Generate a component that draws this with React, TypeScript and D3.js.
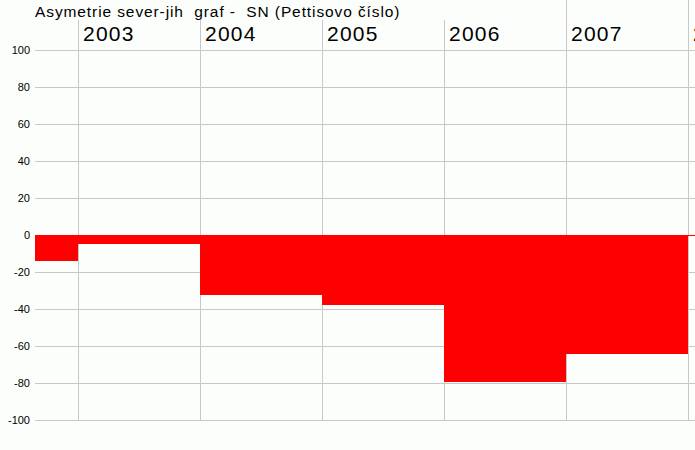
import React from "react";
import * as d3 from "d3";

const title = "Asymetrie sever-jih  graf -  SN (Pettisovo číslo)";
const stepStarts = [2002.6475, 2003, 2004, 2005, 2006, 2007];
const stepEnd = 2008;
const stepValues = [-14, -4.9, -32.4, -37.7, -79.3, -64.3];
const yearLabels = [2003, 2004, 2005, 2006, 2007, 2008];
const yTicks = [100, 80, 60, 40, 20, 0, -20, -40, -60, -80, -100];

const W = 695;
const H = 450;

export default function App() {
  const x = d3.scaleLinear().domain([2002.6475, 2008.057]).range([35, 695]);
  const y = d3.scaleLinear().domain([-100, 100]).range([420, 50]);

  const pts: [number, number][] = stepStarts.map((s, i) => [s, stepValues[i]]);
  pts.push([stepEnd, stepValues[stepValues.length - 1]]);

  const area = d3
    .area<[number, number]>()
    .x((d) => Math.round(x(d[0])))
    .y0(y(0))
    .y1((d) => Math.round(y(d[1])))
    .curve(d3.curveStepAfter);

  const grid = "#c8c8c8";
  return (
    <svg
      width={W}
      height={H}
      style={{ position: "absolute", left: 0, top: 0, background: "#fcfefc" }}
      fontFamily="'Liberation Sans', Arial, sans-serif"
    >
      <rect x={0} y={0} width={W} height={H} fill="#fcfefc" />
      {yearLabels.map((yr) => (
        <line
          key={"v" + yr}
          x1={Math.round(x(yr)) + 0.5}
          x2={Math.round(x(yr)) + 0.5}
          y1={0}
          y2={420}
          stroke={grid}
          strokeWidth={1}
        />
      ))}
      {yTicks.map((t) => (
        <line
          key={"h" + t}
          x1={35}
          x2={W}
          y1={Math.round(y(t)) + 0.5}
          y2={Math.round(y(t)) + 0.5}
          stroke={grid}
          strokeWidth={1}
        />
      ))}
      <path d={area(pts) || ""} fill="#ff0000" shapeRendering="crispEdges" />
      <line x1={35} x2={W} y1={y(0) + 0.5} y2={y(0) + 0.5} stroke="#ff0000" strokeWidth={1} />
      {yTicks.map((t) => (
        <text
          key={"t" + t}
          x={30}
          y={y(t) + 4}
          textAnchor="end"
          fontSize={11}
          fill="#000"
        >
          {t}
        </text>
      ))}
      {yearLabels.map((yr) => (
        <text
          key={"l" + yr}
          x={Math.round(x(yr)) + 5}
          y={41}
          fontSize={21}
          letterSpacing={1.2}
          fill="#000"
        >
          {yr}
        </text>
      ))}
      <rect x={0} y={0} width={500} height={20} fill="#fcfefc" />
      <text
        x={35}
        y={17}
        fontSize={15.5}
        letterSpacing={0.9}
        fill="#000"
        style={{ whiteSpace: "pre" }}
      >
        {title}
      </text>
    </svg>
  );
}
